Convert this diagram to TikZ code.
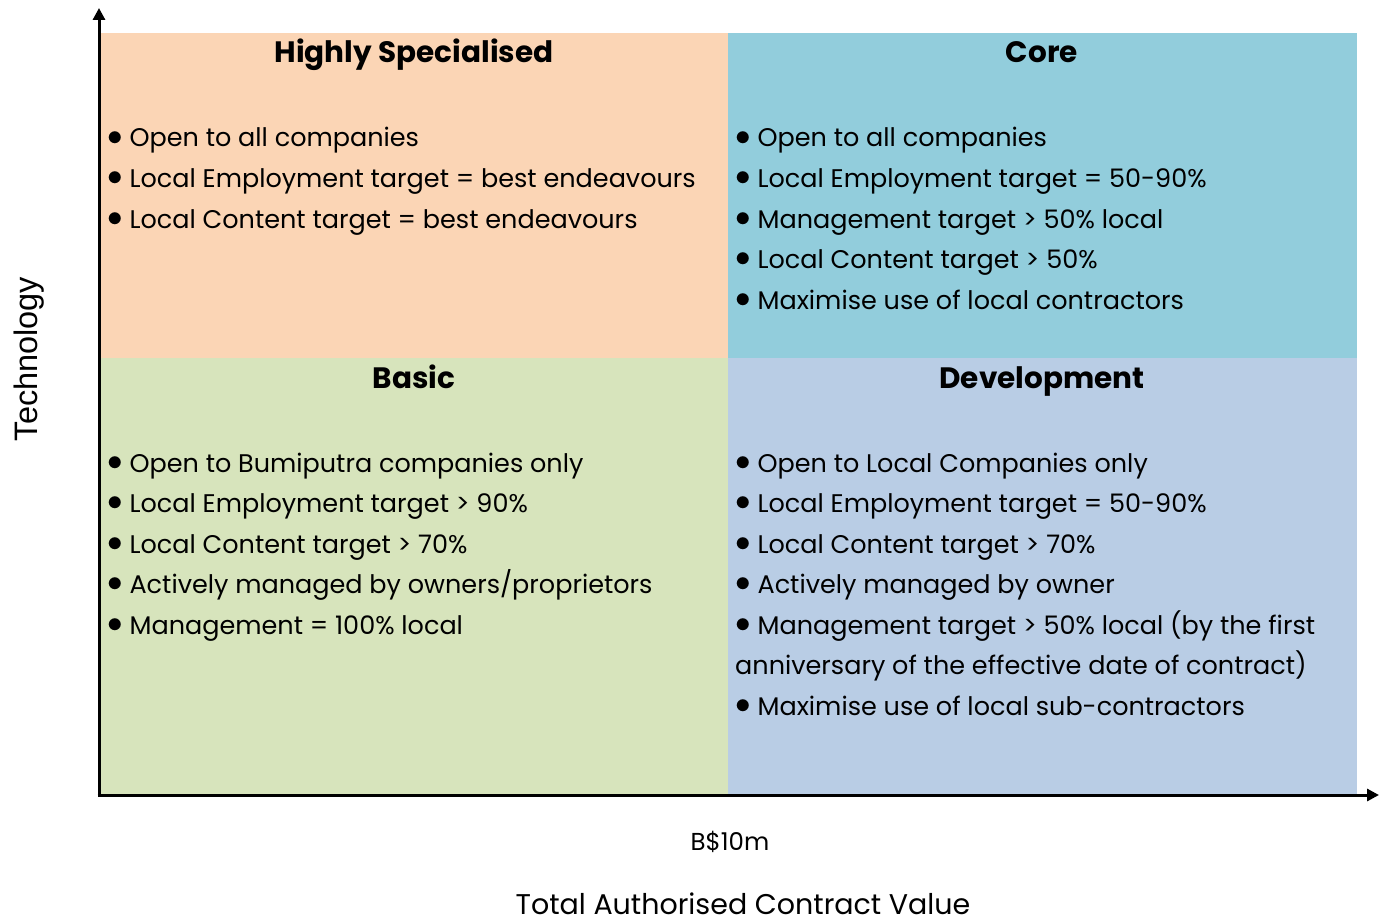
\documentclass[tikz,border=0pt]{standalone}
\usepackage{fontspec}
\usepackage{graphicx}
\setmainfont{Poppins}
\newfontfamily\arialf{Liberation Sans}
\usetikzlibrary{arrows.meta}
\definecolor{cPeach}{HTML}{FBD5B5}
\definecolor{cTeal}{HTML}{92CDDC}
\definecolor{cGreen}{HTML}{D7E4BC}
\definecolor{cBlue}{HTML}{B9CDE5}
\newcommand{\bul}{\raisebox{0.07em}{\scalebox{1.25}{$\bullet$}}}
\tikzset{
  body/.style={anchor=base west, inner sep=0pt, font=\fontsize{25.5}{30}\selectfont},
  head/.style={anchor=base, inner sep=0pt, font=\fontsize{29.5}{34}\selectfont\bfseries},
  axisline/.style={line width=3pt, -{Triangle[length=12pt,width=12pt]}},
}
\begin{document}
\begin{tikzpicture}[x=1pt,y=-1pt]
\useasboundingbox (0,0) rectangle (1379,923);
\fill[cPeach] (100,33) rectangle (728,358);
\fill[cTeal] (728,33) rectangle (1357,358);
\fill[cGreen] (100,358) rectangle (728,795);
\fill[cBlue] (728,358) rectangle (1357,795);
\coordinate (o) at (99,795);
\coordinate (ytip) at (99,8);
\coordinate (xtip) at (1379,795);
\draw[axisline] (o) -- (ytip);
\draw[axisline] ([xshift=-1.5pt]o) -- (xtip);
% titles
\node[head] (t1) at (414,63) {Highly Specialised};
\node[head] (t2) at (1042,63) {Core};
\node[head] (t3) at (414,388) {Basic};
\node[head] (t4) at (1042,388) {Development};
% top left
\node[body] (a1) at (107,147) {\bul{} Open to all companies};
\node[body] (a2) at (107,187.5) {\bul{} Local Employment target = best endeavours};
\node[body] (a3) at (107,228) {\bul{} Local Content target = best endeavours};
% top right
\node[body] (b1) at (735,147) {\bul{} Open to all companies};
\node[body] (b2) at (735,187.5) {\bul{} Local Employment target = 50-90\%};
\node[body] (b3) at (735,228) {\bul{} Management target > 50\% local};
\node[body] (b4) at (735,268.5) {\bul{} Local Content target > 50\%};
\node[body] (b5) at (735,309) {\bul{} Maximise use of local contractors};
% bottom left
\node[body] (c1) at (107,472) {\bul{} Open to Bumiputra companies only};
\node[body] (c2) at (107,512.5) {\bul{} Local Employment target > 90\%};
\node[body] (c3) at (107,553) {\bul{} Local Content target > 70\%};
\node[body] (c4) at (107,593.5) {\bul{} Actively managed by owners/proprietors};
\node[body] (c5) at (107,634) {\bul{} Management = 100\% local};
% bottom right
\node[body] (d1) at (735,472) {\bul{} Open to Local Companies only};
\node[body] (d2) at (735,512.5) {\bul{} Local Employment target = 50-90\%};
\node[body] (d3) at (735,553) {\bul{} Local Content target > 70\%};
\node[body] (d4) at (735,593.5) {\bul{} Actively managed by owner};
\node[body] (d5) at (735,634) {\bul{} Management target > 50\% local (by the first};
\node[body] (d6) at (735,674.5) {anniversary of the effective date of contract)};
\node[body] (d7) at (735,715) {\bul{} Maximise use of local sub-contractors};
% axis labels
\node[inner sep=0pt, anchor=base, font=\fontsize{24.5}{28}\selectfont] (bv) at (730,850) {B\$10m};
\node[inner sep=0pt, anchor=base, text depth=0pt, font=\fontsize{28.5}{32}\selectfont] (xl) at (743,914) {Total Authorised Contract Value};
\node[inner sep=0pt, anchor=base, rotate=90, font=\arialf\fontsize{32.5}{36}\selectfont] (yl) at (37,359) {Technology};
\end{tikzpicture}
\end{document}
